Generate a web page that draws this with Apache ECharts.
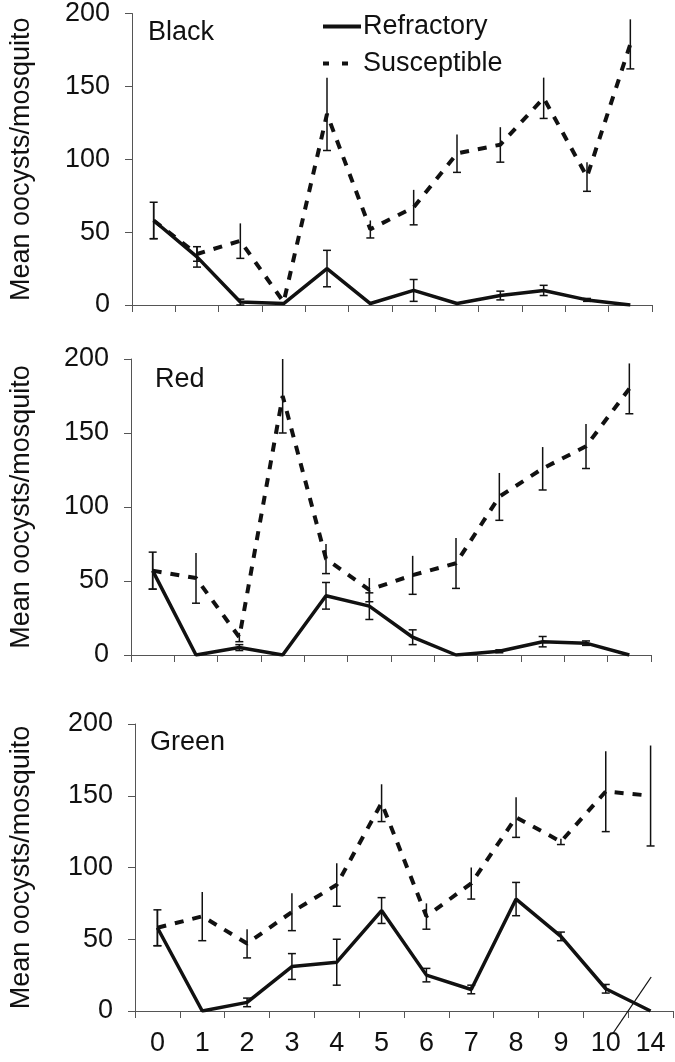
<!DOCTYPE html>
<html>
<head>
<meta charset="utf-8">
<script src="https://cdn.jsdelivr.net/npm/echarts@6/dist/echarts.min.js"></script>
<style>
html,body{margin:0;padding:0;background:#fff;}
#main{width:675px;height:1062px;}
</style>
</head>
<body>
<div id="main"></div>
<script>
const categories = ['0','1','2','3','4','5','6','7','8','9','10','14'];
const yMin = 0, yMax = 200, yInterval = 50;
const panelNames = ['Black','Red','Green'];
const seriesNames = ['Refractory','Susceptible'];
const yAxisTitle = 'Mean oocysts/mosquito';

const blackRef     = [58, 33, 2, 1, 25, 1, 10, 1, 6.5, 10, 3.5, 0];
const blackRefErr  = [12.5, 7, 2, 0, 12.5, 0, 7.5, 0, 3, 3.5, 1, 0];
const blackSus     = [58, 35, 44, 2, 131, 52, 67, 104, 110, 142, 88, 179];
const blackSusErr  = [12.5, 5, 12, 0, 25, 6, 12, 13, 12, 14, 10, 17];

const redRef       = [57, 0, 5, 0, 40, 33, 12, 0, 2.5, 9, 8, 0];
const redRefErr    = [12.5, 0, 2, 0, 9, 9, 5, 0, 1, 3.5, 1.5, 0];
const redSus       = [57, 52, 12, 175, 65, 44, 54, 62, 107, 126, 141, 180];
const redSusErr    = [12.5, 17, 3, 25, 10, 8, 13, 17, 16, 14.5, 15, 17];

const greenRef     = [58, 0, 6, 31, 34, 70, 25, 15, 78, 52, 15.5, 0];
const greenRefErr  = [12.5, 0, 3, 9, 16, 9, 4.7, 3, 11.6, 3, 3, 0];
const greenSus     = [58, 66, 47, 69, 88, 145, 66, 89, 135, 118, 153, 150];
const greenSusErr  = [12.5, 17, 10, 13, 15, 13, 9, 11, 14, 2, 28, 35];

const panels = [
  {ref: blackRef, refErr: blackRefErr, sus: blackSus, susErr: blackSusErr},
  {ref: redRef, refErr: redRefErr, sus: redSus, susErr: redSusErr},
  {ref: greenRef, refErr: greenRefErr, sus: greenSus, susErr: greenSusErr}
];

const FONT = 'Liberation Sans, Arial, sans-serif';
const FS = 27;
const INK = '#111';
const AXIS = '#555';

const grids = [
  {left: 126, right: 23, top: 11, height: 294},
  {left: 125, right: 24, top: 359, height: 296},
  {left: 129, right: 2, top: 724, height: 287}
];
const nameGaps = [97, 96, 100];
const labelPos = [{left:148, top:19}, {left:155, top:366}, {left:150, top:729}];

function errRender(lowerOnly) {
  return function (params, api) {
    const x = api.value(0), v = api.value(1), e = api.value(2);
    if (!e) return null;
    const top = api.coord([x, v + e]);
    const bot = api.coord([x, v - e]);
    const cw = 4;
    const style = {stroke: INK, lineWidth: 1.5};
    const children = [
      {type:'line', shape:{x1: top[0], y1: top[1], x2: bot[0], y2: bot[1]}, style: style},
      {type:'line', shape:{x1: bot[0]-cw, y1: bot[1], x2: bot[0]+cw, y2: bot[1]}, style: style}
    ];
    if (!lowerOnly) {
      children.push({type:'line', shape:{x1: top[0]-cw, y1: top[1], x2: top[0]+cw, y2: top[1]}, style: style});
    }
    return {type:'group', children: children};
  };
}

const xAxes = [], yAxes = [], series = [];
panels.forEach(function (p, i) {
  xAxes.push({
    gridIndex: i, type: 'category', data: categories, boundaryGap: true,
    axisLine: {lineStyle: {color: AXIS, width: 1}},
    axisTick: {show: true, interval: 0, length: 7, lineStyle: {color: AXIS}},
    axisLabel: {show: i === 2, interval: 0, margin: 19, color: INK, fontSize: FS, fontFamily: FONT},
    splitLine: {show: false}
  });
  yAxes.push({
    gridIndex: i, type: 'value', min: yMin, max: yMax, interval: yInterval,
    name: yAxisTitle, nameLocation: 'middle', nameRotate: 90, nameGap: nameGaps[i],
    nameTextStyle: {color: INK, fontSize: FS, fontFamily: FONT},
    axisLine: {show: true, lineStyle: {color: AXIS, width: 1}},
    axisTick: {show: true, length: 7, lineStyle: {color: AXIS}},
    axisLabel: {color: INK, fontSize: FS, fontFamily: FONT, margin: 22},
    splitLine: {show: false}
  });
  series.push({
    name: seriesNames[0], type: 'line', xAxisIndex: i, yAxisIndex: i,
    data: p.ref, symbol: 'none', z: 3,
    lineStyle: {color: INK, width: 3.5, type: 'solid'}, itemStyle: {color: INK}
  });
  series.push({
    name: seriesNames[1], type: 'line', xAxisIndex: i, yAxisIndex: i,
    data: p.sus, symbol: 'none', z: 2,
    lineStyle: {color: INK, width: 4, type: [9, 9]}, itemStyle: {color: INK}
  });
  series.push({
    type: 'custom', xAxisIndex: i, yAxisIndex: i, z: 4,
    renderItem: errRender(false), encode: {x: 0, y: 1},
    data: p.ref.map(function (v, k) { return [k, v, p.refErr[k]]; })
  });
  series.push({
    type: 'custom', xAxisIndex: i, yAxisIndex: i, z: 4,
    renderItem: errRender(true), encode: {x: 0, y: 1},
    data: p.sus.map(function (v, k) { return [k, v, p.susErr[k]]; })
  });
});

const chart = echarts.init(document.getElementById('main'), null, {renderer: 'canvas'});
chart.setOption({
  animation: false,
  backgroundColor: '#fff',
  grid: grids,
  xAxis: xAxes,
  yAxis: yAxes,
  legend: {
    orient: 'vertical', left: 318, top: 8, itemGap: 10,
    itemWidth: 38, itemHeight: 4,
    textStyle: {color: INK, fontSize: FS, fontFamily: FONT, padding: [0, 0, 0, -3]},
    data: [
      {name: seriesNames[0], icon: 'path://M0,0H38V4H0Z'},
      {name: seriesNames[1], icon: 'path://M0,0H6V4H0Z M19,0H25V4H19Z M37.99,0H38V4H37.99Z'}
    ]
  },
  series: series
});

const gfx = panelNames.map(function (t, i) {
  return {type: 'text', id: 'lbl' + i, left: labelPos[i].left, top: labelPos[i].top,
    style: {text: t, fill: INK, font: FS + 'px ' + FONT}};
});
const pa = chart.convertToPixel({xAxisIndex: 2, yAxisIndex: 2}, [10, 0]);
const pb = chart.convertToPixel({xAxisIndex: 2, yAxisIndex: 2}, [11, 0]);
const bx = (pa[0] + pb[0]) / 2, by = pa[1];
gfx.push({type: 'line', id: 'brk', shape: {x1: bx - 15, y1: by + 22, x2: bx + 23, y2: by - 34},
  style: {stroke: INK, lineWidth: 1.3}, z: 10});
chart.setOption({graphic: gfx});
</script>
</body>
</html>
